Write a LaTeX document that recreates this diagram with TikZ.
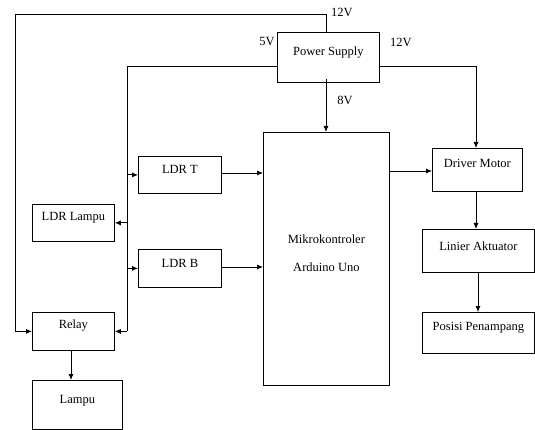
\documentclass[tikz,border=0pt]{standalone}
\usepackage{fontspec}
\setmainfont{Liberation Serif}
\usetikzlibrary{arrows.meta}
\begin{document}
\begin{tikzpicture}[x=1pt,y=-1pt,
  box/.style={draw, line width=0.8pt, rectangle, inner sep=0pt, anchor=north west},
  ln/.style={line width=0.8pt},
  arr/.style={line width=0.8pt, -{Latex[length=6pt,width=5pt]}},
  txt/.style={font=\fontsize{12.5}{14.5}\selectfont}]
\useasboundingbox (0,0) rectangle (535,430);
% boxes
\node[box, minimum width=102, minimum height=50,
  label={[txt,yshift=5pt]center:Power Supply}] (ps) at (277,32) {};
\node[box, minimum width=126, minimum height=253,
  label={[txt,align=center,yshift=5.5pt]center:Mikrokontroler\\[13pt]Arduino Uno}] (mc) at (263,132) {};
\node[box, minimum width=83, minimum height=37,
  label={[txt,yshift=5pt]center:LDR T}] (ldrt) at (138,156) {};
\node[box, minimum width=83, minimum height=38,
  label={[txt,yshift=5pt]center:LDR B}] (ldrb) at (138,249) {};
\node[box, minimum width=82, minimum height=37,
  label={[txt,yshift=5pt]center:LDR Lampu}] (ldrl) at (32,204) {};
\node[box, minimum width=82, minimum height=38,
  label={[txt,yshift=5.5pt]center:Relay}] (relay) at (32,312) {};
\node[box, minimum width=90, minimum height=49,
  label={[txt,yshift=4.5pt]center:Lampu}] (lampu) at (32,380) {};
\node[box, minimum width=90, minimum height=43,
  label={[txt,yshift=6pt]center:Driver Motor}] (drv) at (432,148) {};
\node[box, minimum width=112, minimum height=43,
  label={[txt,yshift=4.5pt]center:Linier Aktuator}] (lin) at (422,229) {};
\node[box, minimum width=112, minimum height=41,
  label={[txt,yshift=5pt]center:Posisi Penampang}] (pos) at (422,312) {};
% coordinates
\coordinate (tl) at (15,14);
\coordinate (tr) at (326,14);
\coordinate (lv) at (127,66);
\coordinate (rv) at (476,66);
% 12V top line to relay
\draw[arr] (ps.north -| tr) -- (tr) -- (tl) |- (relay.west);
% 5V line
\draw[ln] (ps.west |- lv) -- (lv) -- (lv |- relay.west);
\draw[arr] (lv |- ldrt.west) -- (ldrt.west);
\draw[arr] (lv |- ldrb.west) -- (ldrb.west);
\draw[arr] (lv |- ldrl.east) -- (ldrl.east);
\draw[arr] (lv |- relay.east) -- (relay.east);
% 12V right line
\draw[arr] (ps.east |- rv) -- (rv) -- (rv |- drv.north);
% 8V
\draw[arr] ([yshift=4pt]ps.south -| tr) -- (mc.north -| tr);
% signals
\draw[arr] (ldrt.east |- 0,173) -- (mc.west |- 0,173);
\draw[arr] (ldrb.east |- 0,267) -- (mc.west |- 0,267);
\draw[arr] (mc.east |- 0,171) -- (drv.west |- 0,171);
\draw[arr] (drv.south -| rv) -- (lin.north -| rv);
\draw[arr] (lin.south -| 478,0) -- (pos.north -| 478,0);
\draw[arr] (relay.south -| 71,0) -- (lampu.north -| 71,0);
% voltage labels
\node[txt] (v12a) at (342,12) {12V};
\node[txt] (v5) at (267,42) {5V};
\node[txt] (v12b) at (401,42) {12V};
\node[txt] (v8) at (345,100) {8V};
\end{tikzpicture}
\end{document}
